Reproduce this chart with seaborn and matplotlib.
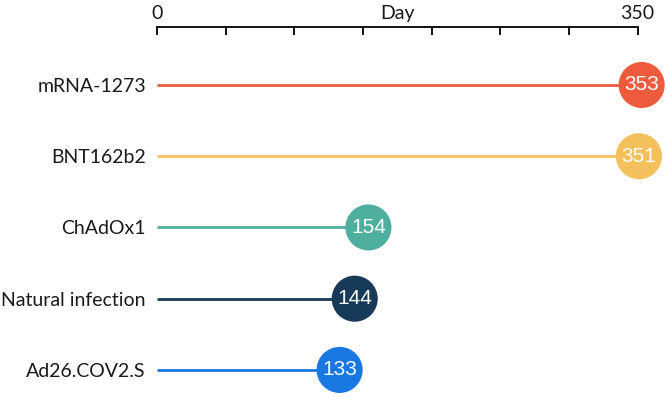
import matplotlib
matplotlib.use("Agg")
import matplotlib.pyplot as plt
import seaborn as sns
import pandas as pd

categories = ["mRNA-1273", "BNT162b2", "ChAdOx1", "Natural infection", "Ad26.COV2.S"]
days = [353, 351, 154, 144, 133]
colors = ["#EE5A3C", "#F4C05B", "#4EAF9F", "#173A59", "#1877E0"]
tick_values = [0, 50, 100, 150, 200, 250, 300, 350]
tick_labels = ["0", "", "", "", "", "", "", "350"]

df = pd.DataFrame({"category": categories, "day": days, "pos": range(len(categories))})

sns.set_style("white")
plt.rcParams["font.family"] = ["Lato", "DejaVu Sans"]

fig = plt.figure(figsize=(6.69, 3.97), dpi=100)
W, H = 669, 397
top_px = 27
ax = fig.add_axes([157 / W, 0, (665 - 157) / W, (H - top_px) / H])

ax.hlines(df["pos"], 0, df["day"], colors=colors, linewidth=2, zorder=1)
sns.scatterplot(data=df, x="day", y="pos", hue="category", palette=colors,
                s=1100, linewidth=0, legend=False, ax=ax, zorder=2)
for _, r in df.iterrows():
    ax.text(r["day"], r["pos"], str(r["day"]), ha="center", va="center",
            color="white", fontsize=15, family=["Liberation Sans"], zorder=3)

ax.set_xlim(0, 370)
ax.set_ylim(4.38, -0.814)
ax.set_yticks(df["pos"])
ax.set_yticklabels(categories, fontsize=14, color="#1a1a1a")
ax.tick_params(axis="y", length=0, pad=8)

ax.xaxis.set_ticks_position("top")
ax.set_xticks(tick_values)
ax.set_xticklabels(tick_labels, fontsize=14, color="#1a1a1a")
ax.tick_params(axis="x", direction="in", length=6, width=1.3, color="black", pad=3.5)
ax.annotate("Day", xy=(175, 1), xycoords=("data", "axes fraction"),
            xytext=(0, 3.5), textcoords="offset points",
            ha="center", va="bottom", fontsize=14, color="#1a1a1a")

for s in ["left", "right", "bottom"]:
    ax.spines[s].set_visible(False)
ax.spines["top"].set_bounds(0, 350)
ax.spines["top"].set_linewidth(1.3)
ax.spines["top"].set_color("black")
ax.set_xlabel("")
ax.set_ylabel("")
ax.set_facecolor("white")

fig.savefig("out.png", dpi=100)
